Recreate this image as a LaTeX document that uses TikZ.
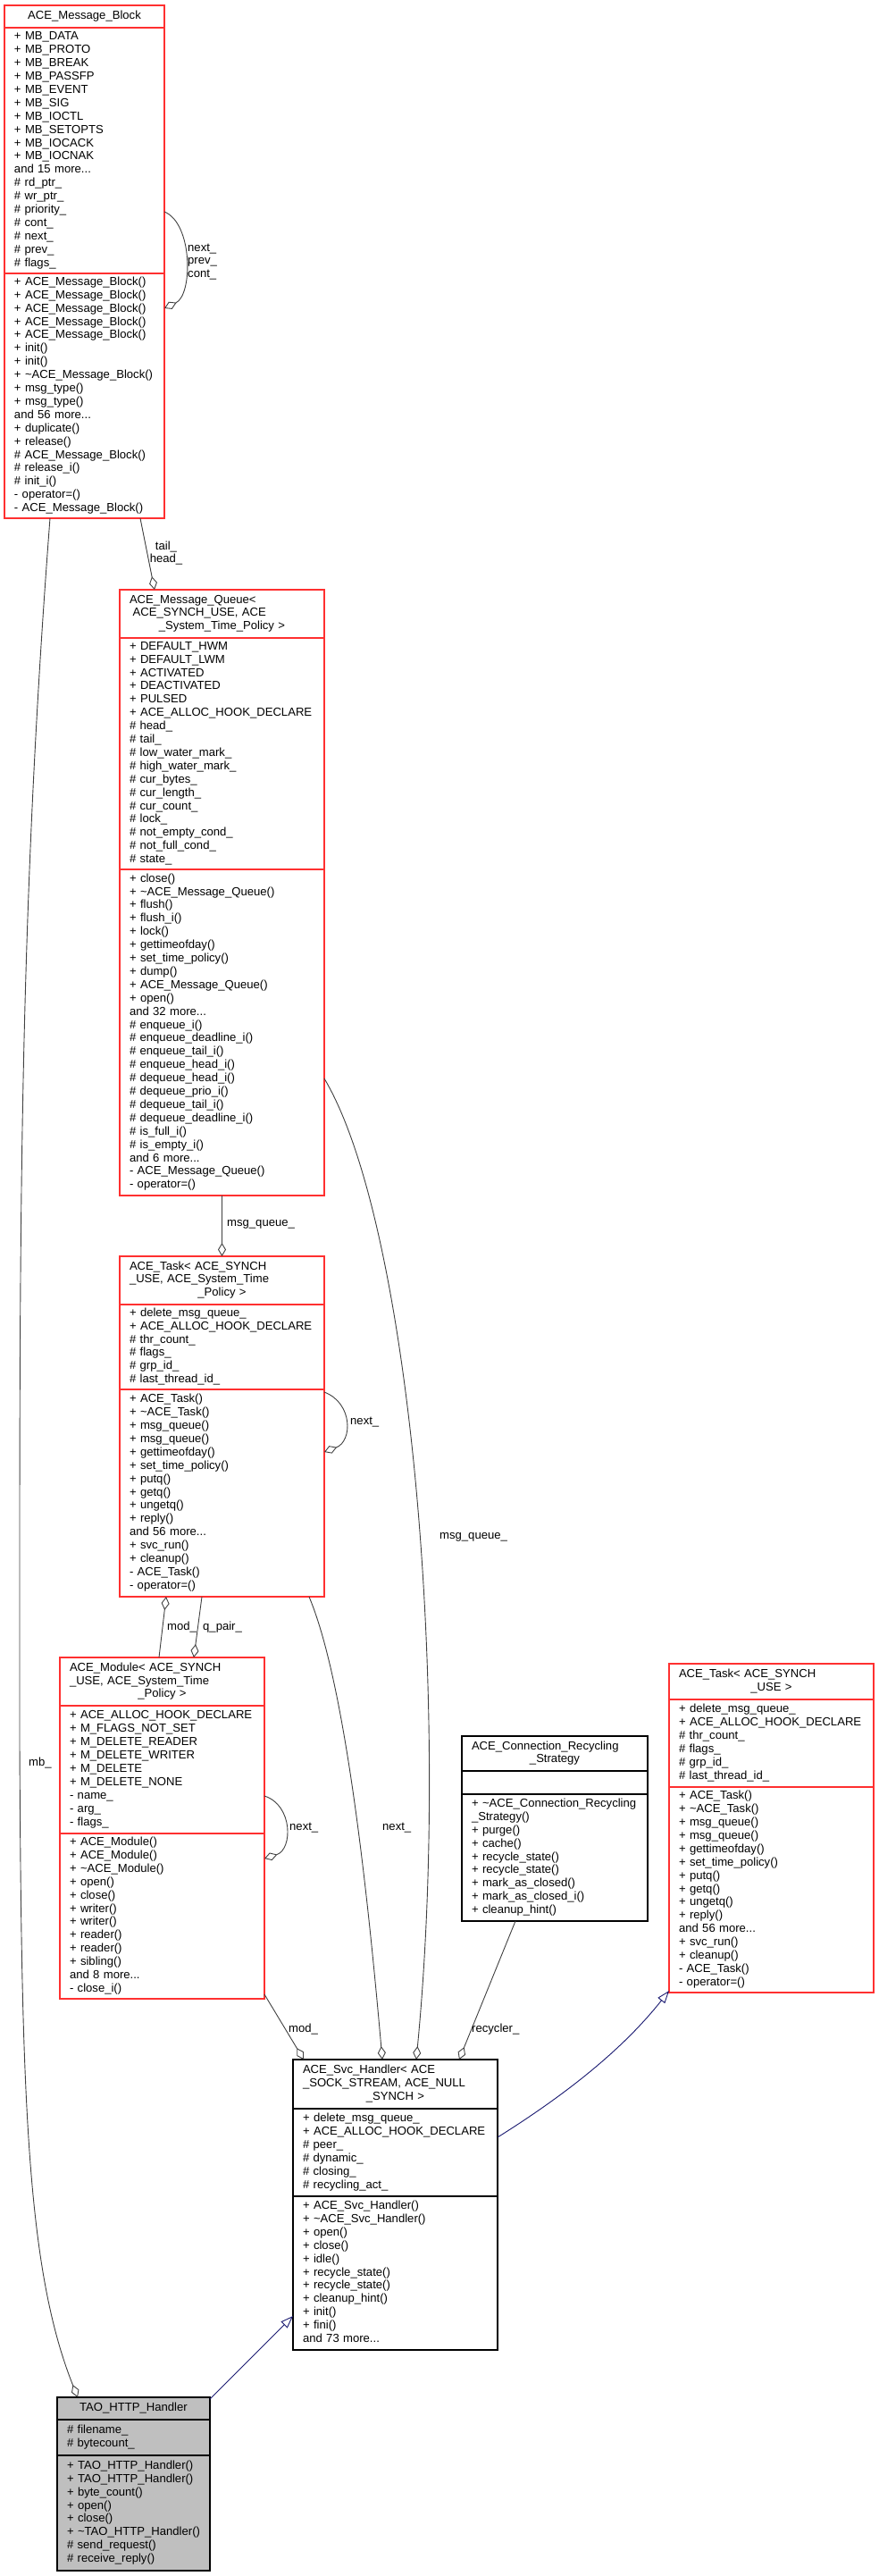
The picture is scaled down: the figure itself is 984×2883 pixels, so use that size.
\documentclass[tikz,border=0pt]{standalone}
\usepackage{fontspec}
\setmainfont{Liberation Sans}
\usetikzlibrary{positioning,arrows.meta}

\definecolor{boxred}{RGB}{255,48,48}
\definecolor{edgegray}{RGB}{64,64,64}
\definecolor{inhblue}{RGB}{25,25,112}
\definecolor{selfgray}{RGB}{191,191,191}

\newcommand{\clsfont}{\fontsize{13.1}{14.9}\selectfont}
\newcommand{\clsrows}[1]{\begin{tabular}{@{}l@{}}#1\end{tabular}}
\newcommand{\ttlc}[1]{\makebox[\linewidth]{#1}}

\tikzset{
  clsbox/.style={draw, line width=1.1pt, inner xsep=11pt, inner ysep=0pt, outer sep=0pt,
    align=left, text width=#1, font=\clsfont},
  redcls/.style={clsbox=#1, draw=boxred},
  blackcls/.style={clsbox=#1, draw=black},
  lbl/.style={inner sep=0pt, anchor=west, align=left, font=\clsfont},
  aggr/.style={draw=edgegray, line width=0.9pt, -{Diamond[open,length=15pt,width=9pt]}},
  derive/.style={draw=inhblue, line width=0.9pt, -{Triangle[open,length=14pt,width=10pt]}}
}

\begin{document}
\begin{tikzpicture}[x=1pt,y=-1pt]
        \useasboundingbox (0,0) rectangle (984,2883);

        % Nodes
        \node[redcls=157pt, minimum height=25pt, anchor=north west] (msgblock) at (5,6)
          {\clsrows{\ttlc{ACE\_Message\_Block}}};
        \node[redcls=157pt, minimum height=275pt, below=0pt of msgblock] (msgblockattr)
          {\clsrows{+ MB\_DATA\\+ MB\_PROTO\\+ MB\_BREAK\\+ MB\_PASSFP\\+ MB\_EVENT\\+ MB\_SIG\\
          + MB\_IOCTL\\+ MB\_SETOPTS\\+ MB\_IOCACK\\+ MB\_IOCNAK\\and 15 more...\\\# rd\_ptr\_\\
          \# wr\_ptr\_\\\# priority\_\\\# cont\_\\\# next\_\\\# prev\_\\\# flags\_}};
        \node[redcls=157pt, minimum height=274pt, below=0pt of msgblockattr] (msgblockops)
          {\clsrows{+ ACE\_Message\_Block()\\+ ACE\_Message\_Block()\\+ ACE\_Message\_Block()\\
          + ACE\_Message\_Block()\\+ ACE\_Message\_Block()\\+ init()\\+ init()\\
          + \textasciitilde ACE\_Message\_Block()\\+ msg\_type()\\+ msg\_type()\\and 56 more...\\
          + duplicate()\\+ release()\\\# ACE\_Message\_Block()\\\# release\_i()\\\# init\_i()\\
          - operator=()\\- ACE\_Message\_Block()}};

        \node[redcls=207pt, minimum height=54pt, anchor=north west] (msgqueue) at (134,660)
          {\clsrows{ACE\_Message\_Queue<\\\hspace{3.6pt}ACE\_SYNCH\_USE, ACE\\\ttlc{\_System\_Time\_Policy >}}};
        \node[redcls=207pt, minimum height=259pt, below=0pt of msgqueue] (msgqueueattr)
          {\clsrows{+ DEFAULT\_HWM\\+ DEFAULT\_LWM\\+ ACTIVATED\\+ DEACTIVATED\\+ PULSED\\
          + ACE\_ALLOC\_HOOK\_DECLARE\\\# head\_\\\# tail\_\\\# low\_water\_mark\_\\
          \# high\_water\_mark\_\\\# cur\_bytes\_\\\# cur\_length\_\\\# cur\_count\_\\\# lock\_\\
          \# not\_empty\_cond\_\\\# not\_full\_cond\_\\\# state\_}};
        \node[redcls=207pt, minimum height=365pt, below=0pt of msgqueueattr] (msgqueueops)
          {\clsrows{+ close()\\+ \textasciitilde ACE\_Message\_Queue()\\+ flush()\\+ flush\_i()\\
          + lock()\\+ gettimeofday()\\+ set\_time\_policy()\\+ dump()\\+ ACE\_Message\_Queue()\\
          + open()\\and 32 more...\\\# enqueue\_i()\\\# enqueue\_deadline\_i()\\\# enqueue\_tail\_i()\\
          \# enqueue\_head\_i()\\\# dequeue\_head\_i()\\\# dequeue\_prio\_i()\\\# dequeue\_tail\_i()\\
          \# dequeue\_deadline\_i()\\\# is\_full\_i()\\\# is\_empty\_i()\\and 6 more...\\
          - ACE\_Message\_Queue()\\- operator=()}};

        \node[redcls=207pt, minimum height=54pt, anchor=north west] (task) at (134,1406)
          {\clsrows{ACE\_Task< ACE\_SYNCH\\\_USE, ACE\_System\_Time\\\ttlc{\_Policy >}}};
        \node[redcls=207pt, minimum height=95pt, below=0pt of task] (taskattr)
          {\clsrows{+ delete\_msg\_queue\_\\+ ACE\_ALLOC\_HOOK\_DECLARE\\\# thr\_count\_\\\# flags\_\\
          \# grp\_id\_\\\# last\_thread\_id\_}};
        \node[redcls=207pt, minimum height=232pt, below=0pt of taskattr] (taskops)
          {\clsrows{+ ACE\_Task()\\+ \textasciitilde ACE\_Task()\\+ msg\_queue()\\+ msg\_queue()\\
          + gettimeofday()\\+ set\_time\_policy()\\+ putq()\\+ getq()\\+ ungetq()\\+ reply()\\
          and 56 more...\\+ svc\_run()\\+ cleanup()\\- ACE\_Task()\\- operator=()}};

        \node[redcls=207pt, minimum height=54pt, anchor=north west] (module) at (67,1855)
          {\clsrows{ACE\_Module< ACE\_SYNCH\\\_USE, ACE\_System\_Time\\\ttlc{\_Policy >}}};
        \node[redcls=207pt, minimum height=143pt, below=0pt of module] (moduleattr)
          {\clsrows{+ ACE\_ALLOC\_HOOK\_DECLARE\\+ M\_FLAGS\_NOT\_SET\\+ M\_DELETE\_READER\\
          + M\_DELETE\_WRITER\\+ M\_DELETE\\+ M\_DELETE\_NONE\\- name\_\\- arg\_\\- flags\_}};
        \node[redcls=207pt, minimum height=185pt, below=0pt of moduleattr] (moduleops)
          {\clsrows{+ ACE\_Module()\\+ ACE\_Module()\\+ \textasciitilde ACE\_Module()\\+ open()\\
          + close()\\+ writer()\\+ writer()\\+ reader()\\+ reader()\\+ sibling()\\
          and 8 more...\\- close\_i()}};

        \node[redcls=207pt, minimum height=40pt, anchor=north west] (tasku) at (749,1862)
          {\clsrows{ACE\_Task< ACE\_SYNCH\\\ttlc{\_USE >}}};
        \node[redcls=207pt, minimum height=98pt, below=0pt of tasku] (tasuattr)
          {\clsrows{+ delete\_msg\_queue\_\\+ ACE\_ALLOC\_HOOK\_DECLARE\\\# thr\_count\_\\\# flags\_\\
          \# grp\_id\_\\\# last\_thread\_id\_}};
        \node[redcls=207pt, minimum height=230pt, below=0pt of tasuattr] (taskuops)
          {\clsrows{+ ACE\_Task()\\+ \textasciitilde ACE\_Task()\\+ msg\_queue()\\+ msg\_queue()\\
          + gettimeofday()\\+ set\_time\_policy()\\+ putq()\\+ getq()\\+ ungetq()\\+ reply()\\
          and 56 more...\\+ svc\_run()\\+ cleanup()\\- ACE\_Task()\\- operator=()}};

        \node[blackcls=186pt, minimum height=39pt, anchor=north west] (recycling) at (517,1943)
          {\clsrows{ACE\_Connection\_Recycling\\\ttlc{\_Strategy}}};
        \node[blackcls=186pt, minimum height=26pt, below=0pt of recycling] (recyclingattr) {};
        \node[blackcls=186pt, minimum height=142pt, below=0pt of recyclingattr] (recyclingops)
          {\clsrows{+ \textasciitilde ACE\_Connection\_Recycling\\\_Strategy()\\+ purge()\\+ cache()\\
          + recycle\_state()\\+ recycle\_state()\\+ mark\_as\_closed()\\+ mark\_as\_closed\_i()\\
          + cleanup\_hint()}};

        \node[blackcls=207pt, minimum height=55pt, anchor=north west] (svchandler) at (328,2305)
          {\clsrows{ACE\_Svc\_Handler< ACE\\\_SOCK\_STREAM, ACE\_NULL\\\ttlc{\_SYNCH >}}};
        \node[blackcls=207pt, minimum height=98pt, below=0pt of svchandler] (svchandlerattr)
          {\clsrows{+ delete\_msg\_queue\_\\+ ACE\_ALLOC\_HOOK\_DECLARE\\\# peer\_\\\# dynamic\_\\
          \# closing\_\\\# recycling\_act\_}};
        \node[blackcls=207pt, minimum height=172pt, below=0pt of svchandlerattr] (svchandlerops)
          {\clsrows{+ ACE\_Svc\_Handler()\\+ \textasciitilde ACE\_Svc\_Handler()\\+ open()\\+ close()\\
          + idle()\\+ recycle\_state()\\+ recycle\_state()\\+ cleanup\_hint()\\+ init()\\+ fini()\\
          and 73 more...}};

        \node[blackcls=149pt, fill=selfgray, minimum height=25pt, anchor=north west] (httphandler) at (64,2683)
          {\clsrows{\ttlc{TAO\_HTTP\_Handler}}};
        \node[blackcls=149pt, fill=selfgray, minimum height=40pt, below=0pt of httphandler] (httphandlerattr)
          {\clsrows{\# filename\_\\\# bytecount\_}};
        \node[blackcls=149pt, fill=selfgray, minimum height=129pt, below=0pt of httphandlerattr] (httphandlerops)
          {\clsrows{+ TAO\_HTTP\_Handler()\\+ TAO\_HTTP\_Handler()\\+ byte\_count()\\+ open()\\
          + close()\\+ \textasciitilde TAO\_HTTP\_Handler()\\\# send\_request()\\\# receive\_reply()}};

        % Connections
        \draw[aggr] ([yshift=-68.5pt]msgblockattr.east) .. controls +(32,13) and +(32,-15) .. ([yshift=98pt]msgblockops.east);
        \draw[aggr] ([xshift=62.5pt]msgblockops.south) -- ([xshift=-75.5pt]msgqueue.north);
        \draw[aggr] ([xshift=-38.5pt]msgblockops.south) .. controls (20,1050) and (22,1400) .. (22,1950)
          .. controls (24,2350) and (30,2540) .. ([xshift=-62.5pt]httphandler.north);
        \draw[aggr] (msgqueueops.south) -- (task.north);
        \draw[aggr] ([yshift=-51.5pt]msgqueueops.east) .. controls (460,1370) and (505,1900) .. ([xshift=23.5pt]svchandler.north);
        \draw[aggr] ([yshift=113pt]taskops.east) .. controls +(32,12) and +(32,-12) .. ([yshift=46pt]taskops.east);
        \draw[aggr] ([xshift=-3.5pt]module.north) -- ([xshift=-62.5pt]taskops.south);
        \draw[aggr] ([xshift=-22.5pt]taskops.south) -- ([xshift=35.5pt]module.north);
        \draw[aggr] ([yshift=-29.5pt]moduleattr.east) .. controls +(32,10) and +(32,-10) .. ([yshift=64.5pt]moduleops.east);
        \draw[aggr] ([yshift=5pt]moduleops.south east) -- ([xshift=-102.5pt]svchandler.north);
        \draw[aggr] ([xshift=97.5pt]taskops.south) .. controls (385,1880) and (410,2100) .. ([xshift=-14.5pt]svchandler.north);
        \draw[aggr] ([xshift=-44pt]recyclingops.south) -- ([xshift=71.5pt]svchandler.north);
        \draw[derive] ([yshift=17pt]svchandlerattr.east) .. controls (640,2340) and (700,2290) .. ([yshift=2pt]taskuops.south west);
        \draw[derive] ([yshift=-2pt]httphandler.north east) -- ([yshift=-48pt]svchandlerops.west);

        % Labels
        \node[lbl] (lblmbself) at (210,293) {next\_\\prev\_\\cont\_};
        \node[lbl, anchor=center, align=center] (lbltailhead) at (186,619) {tail\_\\head\_};
        \node[lbl] (lblmb) at (32,1973) {mb\_};
        \node[lbl] (lblqueue) at (254,1370) {msg\_queue\_};
        \node[lbl] (lblqueuesvc) at (492,1720) {msg\_queue\_};
        \node[lbl] (lbltaskself) at (392,1592) {next\_};
        \node[lbl] (lblmod) at (187,1821) {mod\_};
        \node[lbl] (lblqpair) at (227,1821) {q\_pair\_};
        \node[lbl] (lblmodself) at (324,2046) {next\_};
        \node[lbl] (lblmodsvc) at (323,2271) {mod\_};
        \node[lbl] (lbltasksvc) at (428,2046) {next\_};
        \node[lbl] (lblrecycler) at (528,2271) {recycler\_};
\end{tikzpicture}
\end{document}
